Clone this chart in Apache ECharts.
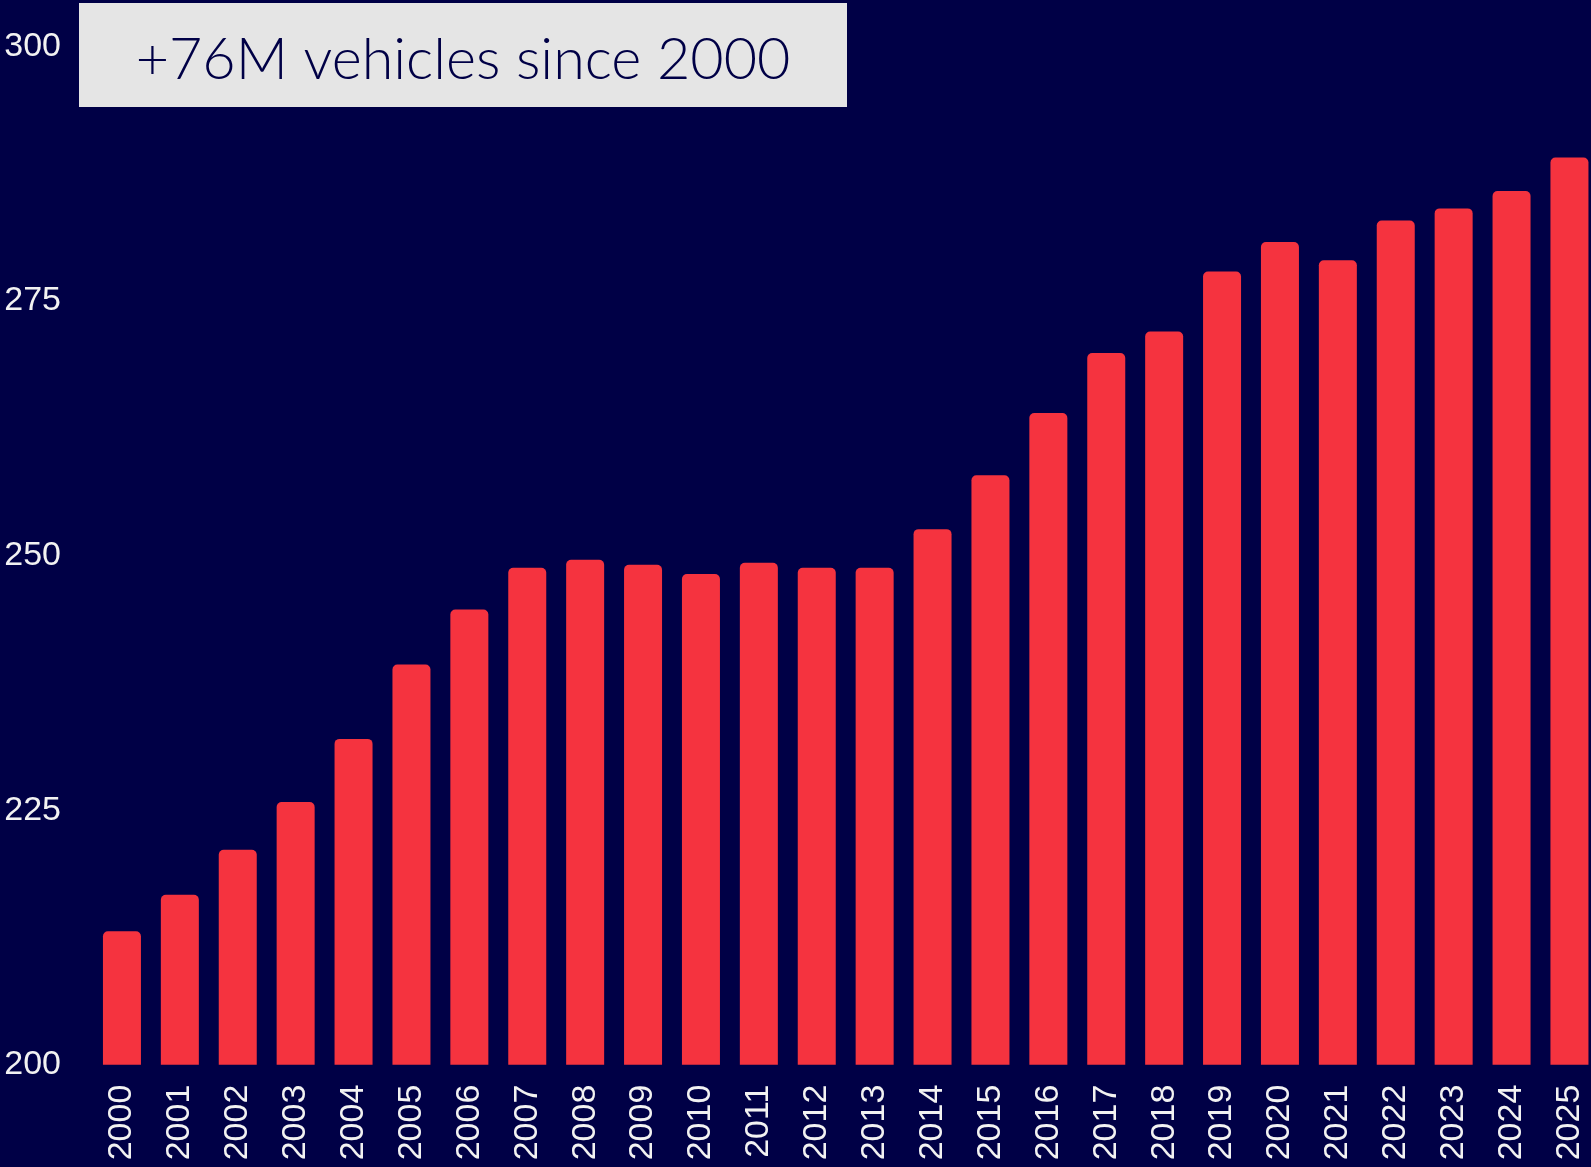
<!DOCTYPE html>
<html>
<head>
<meta charset="utf-8">
<script src="https://cdn.jsdelivr.net/npm/echarts@6/dist/echarts.min.js"></script>
<style>
  html, body { margin: 0; padding: 0; background: #000046; }
  #chart { width: 1591px; height: 1167px; }
</style>
</head>
<body>
<div id="chart"></div>
<script>
// registered vehicles, millions
var years = ['2000', '2001', '2002', '2003', '2004', '2005', '2006', '2007', '2008',
  '2009', '2010', '2011', '2012', '2013', '2014', '2015', '2016', '2017', '2018',
  '2019', '2020', '2021', '2022', '2023', '2024', '2025'];
var vehicles = [213.1, 216.7, 221.1, 225.8, 232.0, 239.3, 244.7, 248.8, 249.6,
  249.1, 248.2, 249.3, 248.8, 248.8, 252.6, 257.9, 264.0, 269.9, 272.0,
  277.9, 280.8, 279.0, 282.9, 284.1, 285.8, 289.1];
var yTicks = [200, 225, 250, 275, 300];
var headline = '+76M vehicles since 2000';

var myChart = echarts.init(document.getElementById('chart'));

myChart.setOption({
  backgroundColor: '#000046',
  animation: false,
  grid: { left: 93, top: 46.5, width: 1505.4, height: 1018.2, outerBoundsMode: 'none', containLabel: false },
  xAxis: {
    type: 'category',
    data: years,
    axisLine: { show: false },
    axisTick: { show: false },
    axisLabel: {
      rotate: 90,
      margin: 20,
      color: '#F2F2F2',
      fontFamily: 'Liberation Sans, Arial, sans-serif',
      fontSize: 34
    }
  },
  yAxis: {
    type: 'value',
    min: yTicks[0],
    max: yTicks[yTicks.length - 1],
    interval: 25,
    splitLine: { show: false },
    axisLine: { show: false },
    axisTick: { show: false },
    axisLabel: {
      margin: 32,
      padding: [4, 0, 0, 0],
      color: '#F2F2F2',
      fontFamily: 'Liberation Sans, Arial, sans-serif',
      fontSize: 34
    }
  },
  series: [{
    type: 'bar',
    data: vehicles,
    barWidth: 38,
    itemStyle: { color: '#F5333F', borderRadius: [5, 5, 0, 0] }
  }],
  graphic: [{
    type: 'group',
    left: 79,
    top: 3,
    children: [{
      type: 'rect',
      shape: { x: 0, y: 0, width: 768, height: 104 },
      style: { fill: '#E5E5E5' }
    }, {
      type: 'text',
      x: 384,
      y: 57,
      style: {
        text: headline,
        fill: '#000046',
        font: '300 57.5px Lato, "Open Sans", sans-serif',
        align: 'center',
        verticalAlign: 'middle'
      }
    }]
  }]
});
</script>
</body>
</html>
